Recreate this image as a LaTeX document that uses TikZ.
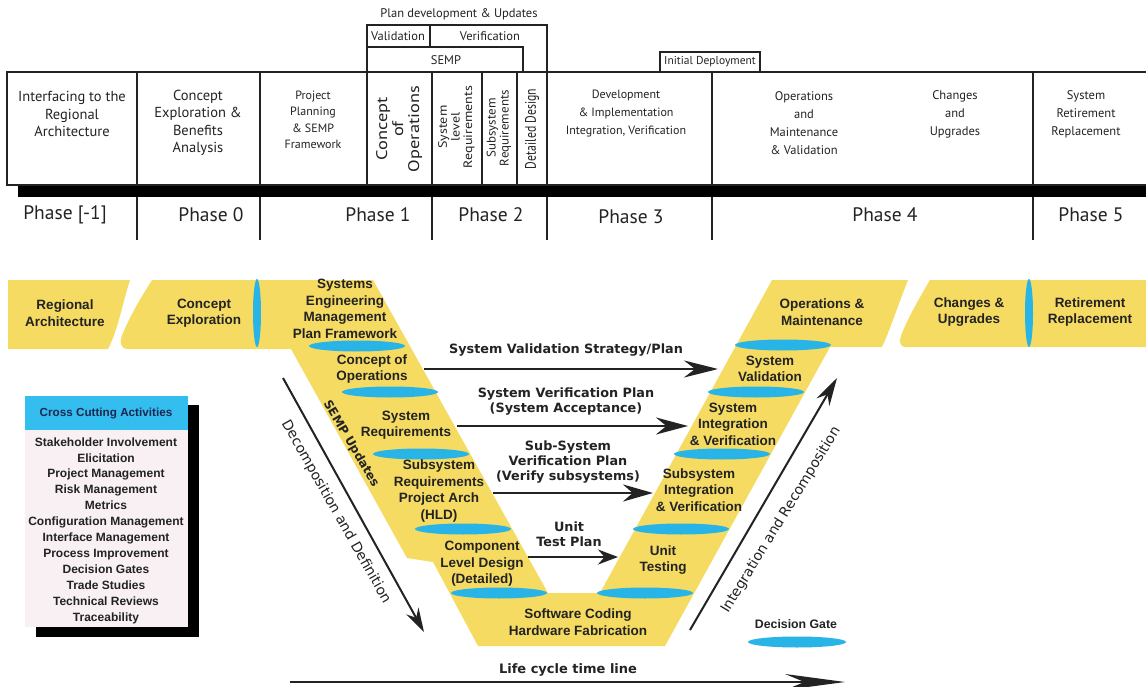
\documentclass[tikz,border=0pt]{standalone}
\usepackage{fontspec}
\setmainfont{Liberation Sans}
\newfontfamily\hdr{PT Sans}
\newfontfamily\arfont{DejaVu Sans}
\usetikzlibrary{arrows.meta,shapes.geometric}
\definecolor{yel}{RGB}{245,219,98}
\definecolor{gateblue}{RGB}{40,180,230}
\definecolor{hdrblue}{RGB}{52,190,240}
\definecolor{bodypink}{RGB}{248,240,243}
\definecolor{ink}{RGB}{35,35,35}
\newcommand{\stk}[1]{\begin{tabular}{@{}c@{}}#1\end{tabular}}
\begin{document}
\begin{tikzpicture}[x=1pt,y=-1pt,
  hd/.style={font=\hdr\fontsize{14.5}{17.5}\selectfont, text=ink, align=center, inner sep=0pt},
  hdsm/.style={font=\hdr\fontsize{12.5}{14}\selectfont, text=ink, align=center, inner sep=0pt},
  rot/.style={font=\hdr\fontsize{12}{12.5}\selectfont, text=ink, inner sep=0pt, rotate=90},
  ph/.style={font=\hdr\fontsize{19.5}{22}\selectfont, text=ink, inner sep=0pt},
  vt/.style={font=\bfseries\fontsize{13.5}{16.5}\selectfont, text=ink, align=center, inner sep=0pt},
  al/.style={font=\arfont\bfseries\fontsize{12.8}{15}\selectfont, text=ink, align=center, inner sep=0pt},
  diagtxt/.style={font=\arfont\fontsize{14}{16}\selectfont, text=ink, inner sep=0pt},
  cc/.style={font=\bfseries\fontsize{12}{15.9}\selectfont, text=ink, align=center, inner sep=0pt},
  gate/.style={ellipse, fill=gateblue, minimum width=96pt, minimum height=11pt, inner sep=0pt},
  vgate/.style={ellipse, fill=gateblue, minimum width=8pt, minimum height=68pt, inner sep=0pt},
  frame/.style={line width=1.1pt, draw=ink},
  planarrow/.style={line width=2.6pt, draw=ink},
  diagarrow/.style={line width=2pt, draw=ink, -{Stealth[length=24pt,width=14pt]}},
]
\useasboundingbox (0,0) rectangle (1146,687);
\fill[white] (0,0) rectangle (1146,687);

% ---------------- top phase table ----------------
\draw[frame] (7,72) rectangle (1160,185);
\fill[black] (18,186) rectangle (1160,197);
\foreach \x in {137,260,367,432,482,517,547,712,1033} \draw[frame] (\x,72) -- (\x,185);
\foreach \x in {137,260,432,547,712,1033} \draw[frame] (\x,197) -- (\x,240);
\draw[frame] (367,72) -- (367,25) -- (547,25) -- (547,72);
\draw[frame] (430,25) -- (430,47);
\draw[frame] (367,47) -- (523,47) -- (523,72);
\draw[frame] (660,72) -- (660,52) -- (760,52) -- (760,72);

\node[hdsm] (plandev) at (459,14) {Plan development \& Updates};
\node[hdsm] (valid) at (398,36) {Validation};
\node[hdsm] (verif) at (490,36) {Verification};
\node[hdsm] (semp) at (446,60) {SEMP};
\node[hdsm, font=\hdr\fontsize{11.5}{13}\selectfont] (initdep) at (710,62) {Initial Deployment};

\node[hd] (c1) at (72,114) {Interfacing to the\\Regional\\Architecture};
\node[hd] (c2) at (198,123) {Concept\\Exploration \&\\Benefits\\Analysis};
\node[hd, font=\hdr\fontsize{12}{16.5}\selectfont] (c3) at (313,120) {Project\\Planning\\\& SEMP\\Framework};
\node[rot] (c4) at (400,129) {\resizebox*{86pt}{48pt}{\stk{Concept\\of\\Operations}}};
\node[rot] (c5) at (457,127) {\resizebox*{82pt}{38pt}{\stk{System\\level\\Requirements}}};
\node[rot] (c6) at (499.5,128) {\resizebox*{76pt}{26pt}{\stk{Subsystem\\Requirements}}};
\node[rot] (c7) at (532,129) {\resizebox*{80pt}{14pt}{Detailed Design}};
\node[hd, font=\hdr\fontsize{12}{18}\selectfont] (c8) at (626,114) {Development\\\& Implementation\\Integration, Verification};
\node[hd, font=\hdr\fontsize{12.5}{18}\selectfont] (c9) at (804,123) {Operations\\and\\Maintenance\\\& Validation};
\node[hd, font=\hdr\fontsize{12.5}{18}\selectfont] (c10) at (955,114) {Changes\\and\\Upgrades};
\node[hd, font=\hdr\fontsize{12.5}{18}\selectfont] (c11) at (1086,114) {System\\Retirement\\Replacement};

\node[ph] (p-1) at (65,215) {Phase [-1]};
\node[ph] (p0) at (211,215) {Phase 0};
\node[ph] (p1) at (378,215) {Phase 1};
\node[ph] (p2) at (491,215) {Phase 2};
\node[ph] (p3) at (631,217) {Phase 3};
\node[ph] (p4) at (885,215) {Phase 4};
\node[ph] (p5) at (1091,215) {Phase 5};

% ---------------- V diagram ----------------
\fill[yel] (8,280) -- (130,280) .. controls (122,305) and (118,330) .. (108,349) -- (8,349) -- cycle;
\fill[yel] (152,280) -- (373,280) -- (548,593) -- (600,593) -- (772,280) -- (908,280)
  .. controls (898,305) and (890,330) .. (882,347) -- (830,347) -- (665,646) -- (478,646)
  -- (433,562) -- (407,558) -- (291,349) -- (128,349)
  .. controls (120,349) and (119,342) .. (123,333) .. controls (132,312) and (142,296) .. (152,280) -- cycle;
\fill[yel] (930,280) -- (1160,280) -- (1160,347) -- (906,347)
  .. controls (899,347) and (899,341) .. (902,333) .. controls (910,314) and (920,297) .. (930,280) -- cycle;

\node[vgate] (vg1) at (257,313) {};
\node[vgate] (vg2) at (1029,313) {};
\node[gate] (g1) at (357,346) {};
\node[gate] (g2) at (390,392) {};
\node[gate] (g3) at (421,454) {};
\node[gate] (g4) at (463,529) {};
\node[gate] (g5) at (499,593) {};
\node[gate] (g6) at (645,593) {};
\node[gate] (g7) at (681,529) {};
\node[gate] (g8) at (722,454) {};
\node[gate] (g9) at (756,392) {};
\node[gate] (g10) at (783,345) {};

\node[vt] (regarch) at (65,313) {Regional\\Architecture};
\node[vt] (concexp) at (204,313) {Concept\\Exploration};
\node[vt] (semf) at (345,309) {Systems\\Engineering\\Management\\Plan Framework};
\node[vt] (conops) at (372,369) {Concept of\\Operations};
\node[vt] (sysreq) at (406,425) {System\\Requirements};
\node[vt] (subreq) at (439,491) {Subsystem\\Requirements\\Project Arch\\(HLD)};
\node[vt] (comp) at (482,564) {Component\\Level Design\\(Detailed)};
\node[vt] (swc) at (578,622) {Software Coding\\Hardware Fabrication};
\node[vt] (unit) at (663,560) {Unit\\Testing};
\node[vt] (subint) at (699,490) {Subsystem\\Integration\\\& Verification};
\node[vt] (sysint) at (733,424) {System\\Integration\\\& Verification};
\node[vt] (sysval) at (770,369) {System\\Validation};
\node[vt] (opsm) at (822,312) {Operations \&\\Maintenance};
\node[vt] (chg) at (969,312) {Changes \&\\Upgrades};
\node[vt] (ret) at (1090,312) {Retirement\\Replacement};

% plan arrows
\coordinate (a1s) at (424,369); \coordinate (a1e) at (718,369);
\coordinate (a2s) at (457,426); \coordinate (a2e) at (688,426);
\coordinate (a3s) at (493,493); \coordinate (a3e) at (653,493);
\coordinate (a4s) at (528,557); \coordinate (a4e) at (618,557);
\draw[planarrow, -{Stealth[length=34pt,width=17pt]}] (a1s) -- (a1e);
\draw[planarrow, -{Stealth[length=32pt,width=17pt]}] (a2s) -- (a2e);
\draw[planarrow, -{Stealth[length=30pt,width=17pt]}] (a3s) -- (a3e);
\draw[planarrow, -{Stealth[length=20pt,width=15pt]}] (a4s) -- (a4e);
\node[al] (l1) at (566,350) {System Validation Strategy/Plan};
\node[al] (l2) at (566,402) {System Verification Plan\\(System Acceptance)};
\node[al] (l3) at (568,462) {Sub-System\\Verification Plan\\(Verify subsystems)};
\node[al] (l4) at (569,534) {Unit\\Test Plan};

% diagonal arrows
\coordinate (dds) at (283,378); \coordinate (dde) at (424,632);
\draw[diagarrow] (dds) -- (dde);
\node[diagtxt, rotate=-60.5] (ddt) at (336,512) {Decomposition and Definition};
\node[font=\arfont\bfseries\fontsize{12}{14}\selectfont, text=ink, inner sep=0pt, rotate=-59.5] (sempu) at (351,444) {SEMP Updates};
\coordinate (irs) at (690,630); \coordinate (ire) at (837,378);
\draw[diagarrow, -{Stealth[length=28pt,width=15pt]}] (irs) -- (ire);
\node[diagtxt, rotate=58.5] (irt) at (781,520) {Integration and Recomposition};

% legend
\node[font=\bfseries\fontsize{12.3}{14}\selectfont, text=ink, inner sep=0pt] (dglab) at (796,624) {Decision Gate};
\node[gate, minimum width=98pt] (dg) at (797,642) {};

% life cycle
\node[font=\arfont\bfseries\fontsize{13}{15}\selectfont, text=ink, inner sep=0pt] (lct) at (568,670) {Life cycle time line};
\coordinate (lcs) at (290,682); \coordinate (lce) at (845,682);
\draw[line width=2.6pt, draw=ink, -{Stealth[length=60pt,width=16pt]}] (lcs) -- (lce);

% cross cutting box
\fill[black] (36,405) rectangle (199,637);
\fill[bodypink] (25,430) rectangle (188,627);
\fill[hdrblue] (25,396) rectangle (188,430);
\node[font=\bfseries\fontsize{11.7}{14}\selectfont, text={rgb,255:red,25;green,40;blue,80}, inner sep=0pt] (cchead) at (106,413) {Cross Cutting Activities};
\node[cc] (ccitems) at (106,530.5) {Stakeholder Involvement\\Elicitation\\Project Management\\Risk Management\\Metrics\\Configuration Management\\Interface Management\\Process Improvement\\Decision Gates\\Trade Studies\\Technical Reviews\\Traceability};
\end{tikzpicture}
\end{document}
